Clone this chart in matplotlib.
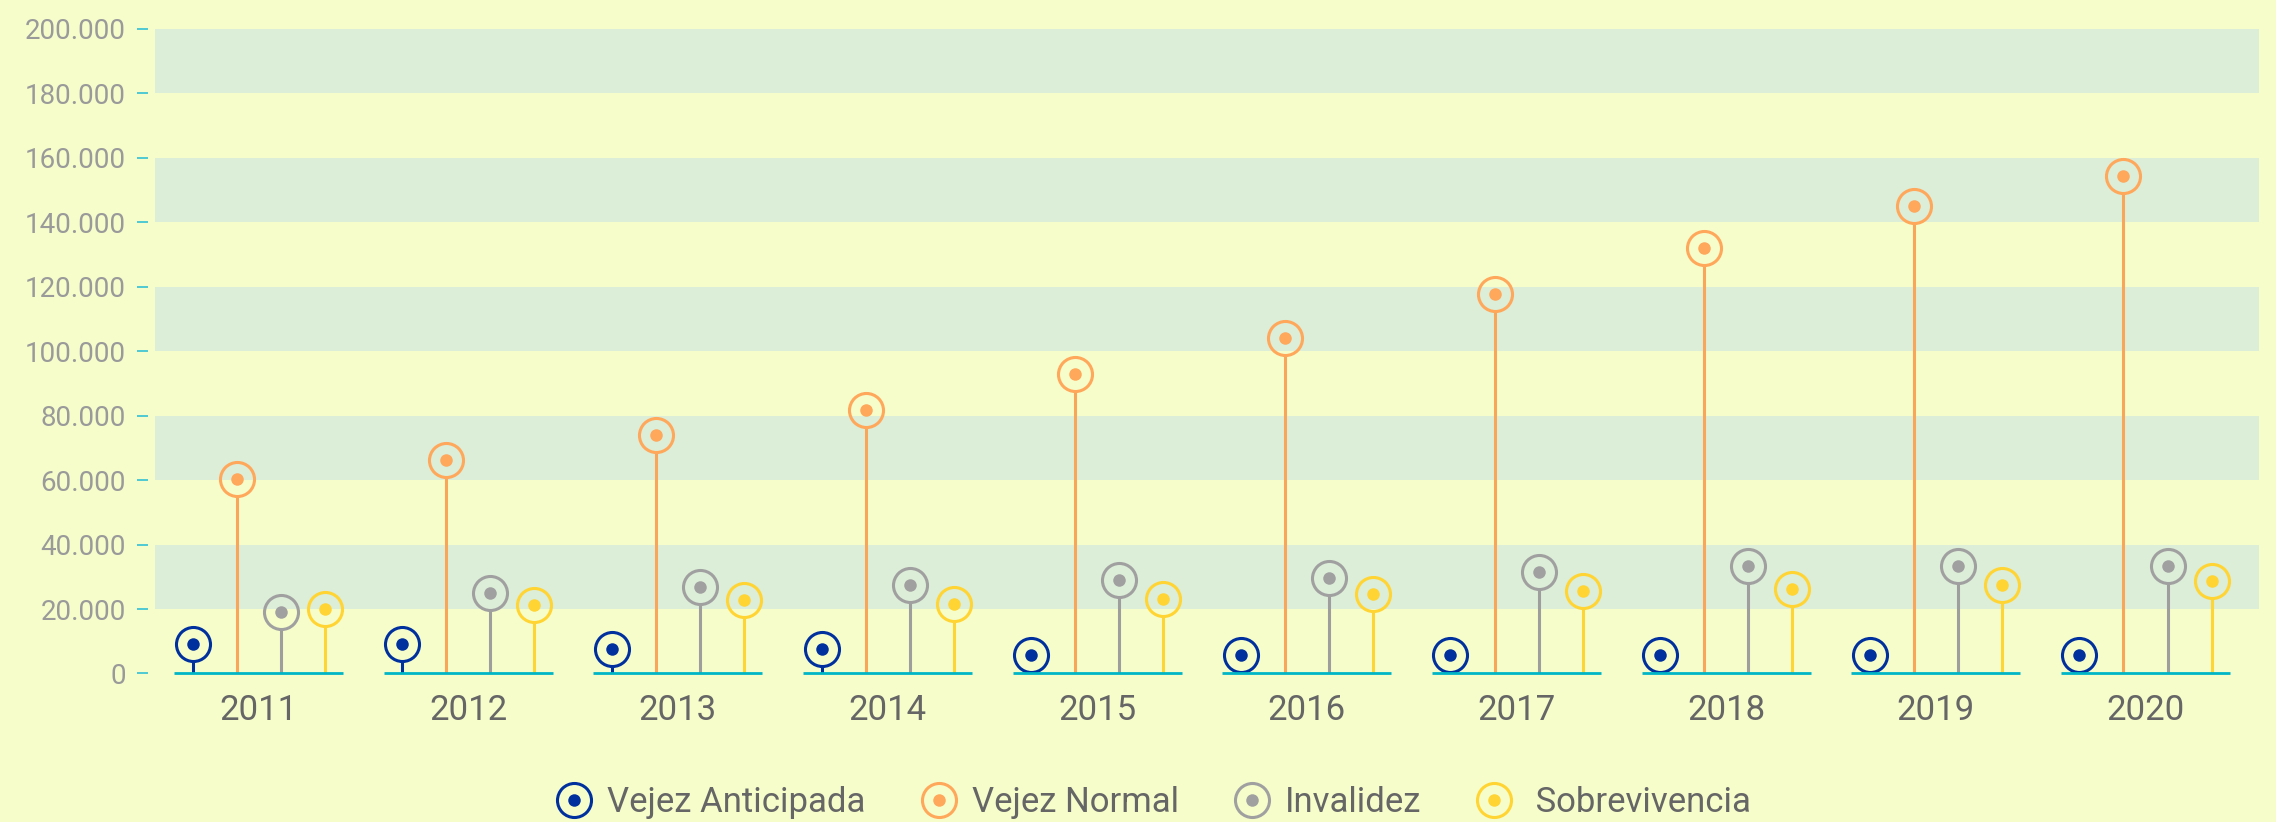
import matplotlib
matplotlib.use('Agg')
import matplotlib.pyplot as plt
from matplotlib.lines import Line2D
from matplotlib.ticker import FuncFormatter, MultipleLocator
import numpy as np

years = ['2011', '2012', '2013', '2014', '2015', '2016', '2017', '2018', '2019', '2020']
series_names = ['Vejez Anticipada', 'Vejez Normal', 'Invalidez', 'Sobrevivencia']

vejez_anticipada = [9200, 9200, 7500, 7500, 5700, 5700, 5600, 5600, 5700, 5700]
vejez_normal = [60300, 66100, 74000, 81700, 92800, 104100, 117700, 132100, 145200, 154300]
invalidez = [19200, 25100, 26800, 27500, 29000, 29600, 31500, 33400, 33500, 33500]
sobrevivencia = [20100, 21200, 22800, 21700, 23000, 24600, 25600, 26300, 27600, 28600]

ring_colors = ['#00309E', '#FFA75A', '#A0A0A0', '#FFD433']
stem_colors = ['#00309E', '#F9A65A', '#9E9E9E', '#FDD535']

BG = '#F6FDCA'
BAND = '#DCEDD8'
CYAN = '#00B5C5'

plt.rcParams['font.family'] = ['Roboto', 'DejaVu Sans']


def thousands(v, pos):
    return f'{int(v):,}'.replace(',', '.')


def lollipop_chart():
    fig = plt.figure(figsize=(22.76, 8.22), dpi=100)
    fig.patch.set_facecolor(BG)
    ax = fig.add_axes([0.0681, 0.1807, 0.9244, 0.7841])
    ax.set_facecolor(BG)

    ymax = 200000
    ax.set_ylim(0, ymax)
    ax.set_xlim(-0.494, 9.541)

    # bandas horizontales
    for lo in range(20000, ymax, 40000):
        ax.axhspan(lo, lo + 20000, color=BAND, lw=0, zorder=0)

    all_series = [vejez_anticipada, vejez_normal, invalidez, sobrevivencia]
    offsets = [-0.315, -0.105, 0.105, 0.315]
    x = np.arange(len(years))

    # radio del círculo en unidades de datos (17 px)
    ax_h_px = 0.7841 * 822
    r_data = 17 * ymax / ax_h_px

    for vals, off, rc, sc in zip(all_series, offsets, ring_colors, stem_colors):
        vals = np.array(vals)
        tops = np.maximum(vals - r_data, 0)
        ax.vlines(x + off, 0, tops, color=sc, lw=2.2, zorder=2)
        ax.plot(x + off, vals, ls='none', marker='o', ms=24.5, mfc='none',
                mec=rc, mew=2.2, zorder=3, clip_on=False)
        ax.plot(x + off, vals, ls='none', marker='o', ms=9, mfc=rc,
                mec='none', zorder=3, clip_on=False)

    ax.hlines(np.zeros(len(x)), x - 0.403, x + 0.403, color=CYAN, lw=2.0,
              zorder=4, clip_on=False)

    for s in ax.spines.values():
        s.set_visible(False)
    ax.spines['left'].set_position(('outward', 5))

    ax.yaxis.set_major_locator(MultipleLocator(20000))
    ax.yaxis.set_major_formatter(FuncFormatter(thousands))
    ax.tick_params(axis='y', length=7.9, width=1.4, color='#4FC9D2',
                   labelcolor='#9A9A9A', labelsize=20, pad=7.9)

    ax.set_xticks(x)
    ax.set_xticklabels(years)
    ax.tick_params(axis='x', length=0, labelcolor='#666666', labelsize=25,
                   pad=15)

    handles = []
    for rc in ring_colors:
        ring = Line2D([], [], ls='none', marker='o', ms=24.5, mfc='none',
                      mec=rc, mew=2.2)
        dot = Line2D([], [], ls='none', marker='o', ms=9, mfc=rc, mec='none')
        handles.append((ring, dot))
    labels = ['Vejez Anticipada', 'Vejez Normal', 'Invalidez', ' Sobrevivencia']
    leg = fig.legend(handles, labels, loc='center', bbox_to_anchor=(0.507, 0.024),
                     ncol=4, frameon=False, fontsize=25, handlelength=1.0,
                     handletextpad=0.45, columnspacing=1.6, numpoints=1,
                     borderaxespad=0, borderpad=0)
    for t in leg.get_texts():
        t.set_color('#666666')

    fig.savefig('out.png', dpi=100, facecolor=BG)


if __name__ == "__main__":
    lollipop_chart()
